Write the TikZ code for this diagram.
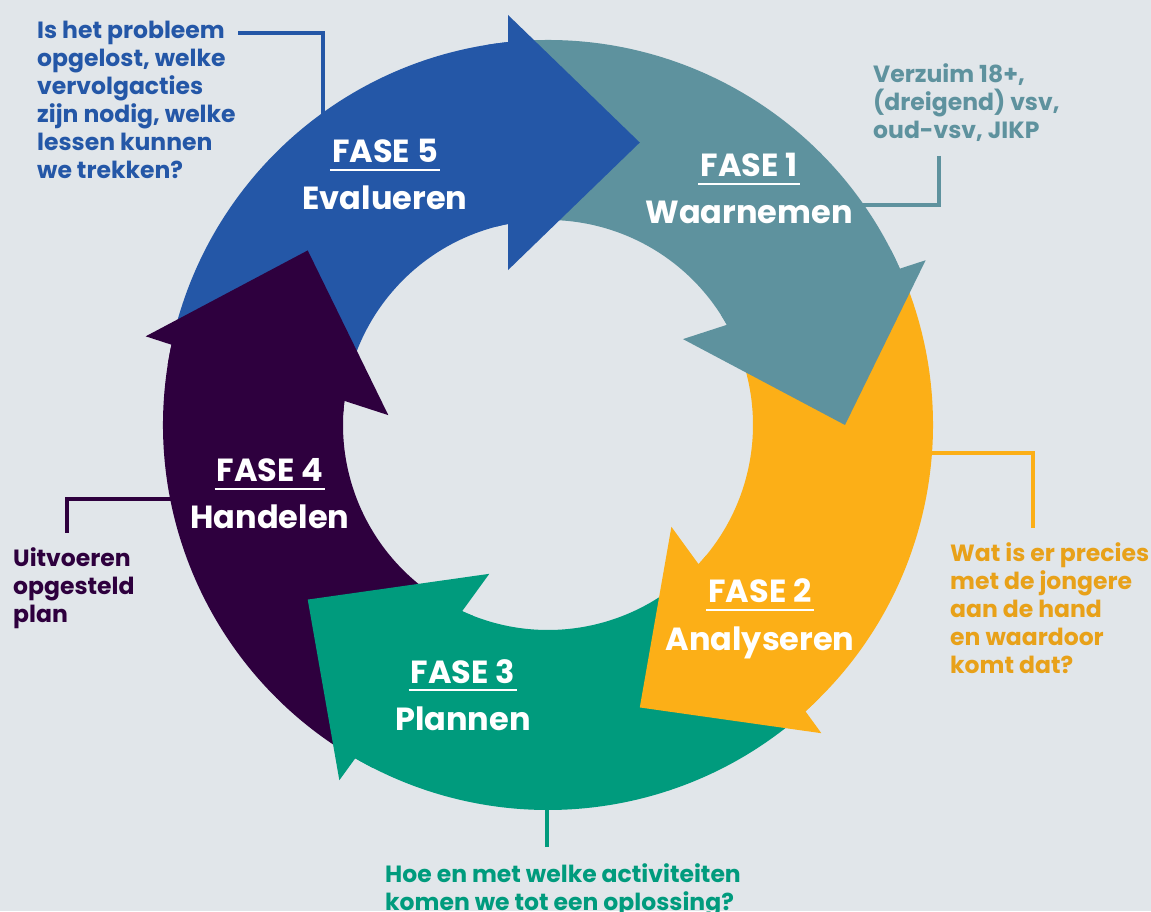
\documentclass[tikz,border=0pt]{standalone}
\usepackage{fontspec}
\setmainfont{Poppins}
\definecolor{bgGrey}{HTML}{E1E6EA}
\definecolor{faseOne}{HTML}{5E929E}
\definecolor{faseTwo}{HTML}{FCAF17}
\definecolor{faseTwoText}{HTML}{E8A119}
\definecolor{faseThree}{HTML}{009B7D}
\definecolor{faseFour}{HTML}{2E003E}
\definecolor{faseFive}{HTML}{2457A7}

\begin{document}
\begin{tikzpicture}
[x=1pt,y=1pt,
  faseTitle/.style={text=white,font=\fontsize{32}{38}\selectfont\bfseries,anchor=base,inner xsep=2pt,inner ysep=0pt},%
  faseName/.style={text=white,font=\fontsize{32}{38}\selectfont\bfseries,anchor=base,inner sep=0pt},%
  faseLine/.style={white,line width=2pt},%
  noteText/.style={font=\fontsize{23.5}{28}\selectfont\bfseries,align=left,anchor=base west,inner sep=0pt},%
  noteLine/.style={line width=4.5pt}]
%% background
\fill[bgGrey] (0,0) rectangle (1151,911);
\useasboundingbox (0,0) rectangle (1151,911);
%% notes (placed by the baseline of their last line)
\node[noteText,text=faseFive] (q5) at (37,732) {Is het probleem\\opgelost, welke\\vervolgacties\\zijn nodig, welke\\lessen kunnen\\we trekken?};
\node[noteText,text=faseOne] (q1) at (873,772) {Verzuim 18+,\\(dreigend) vsv,\\oud-vsv, JIKP};
\node[noteText,text=faseTwoText] (q2) at (950,237) {Wat is er precies\\met de jongere\\aan de hand\\en waardoor\\komt dat?};
\node[noteText,text=faseFour] (q4) at (13,288) {Uitvoeren\\opgesteld\\plan};
\node[noteText,text=faseThree] (q3) at (385,1) {Hoe en met welke activiteiten\\komen we tot een oplossing?};
%% leader lines
\coordinate (k5) at (238,878); \coordinate (r5) at (323,790);
\coordinate (k1) at (939,755); \coordinate (r1) at (858,706);
\coordinate (k2) at (1033,383); \coordinate (r2) at (925,458);
\coordinate (k4) at (67,378); \coordinate (r4) at (178,412);
\coordinate (k3) at (547,64); \coordinate (r3) at (547,112);
\draw[noteLine,faseFive] (k5) -| (r5);
\draw[noteLine,faseOne] (k1) |- (r1);
\draw[noteLine,faseTwo] (k2) |- (r2);
\draw[noteLine,faseFour] (k4) |- (r4);
\draw[noteLine,faseThree] (k3) -- (r3);
%% ring of arrows
\begin{scope}[shift={(548,486)}]
\foreach \t/\col in {0/faseOne, -72/faseTwo, -144/faseThree, 144/faseFour, 72/faseFive} {
  \fill[\col] ({\t+96}:385) arc[start angle=\t+96, end angle=\t+24, radius=385]
    -- ({\t+29.25}:205) arc[start angle=\t+29.25, end angle=\t+101.25, radius=205] -- cycle;
}
%% heads, with a strip of their own body so no seam shows
\foreach \t/\col in {0/faseOne, -72/faseTwo, -144/faseThree, 144/faseFour, 72/faseFive} {
  \fill[\col] (\t:297) -- ({\t+32.47}:160) -- ({\t+23.57}:412) -- cycle
    ({\t+27}:385) arc[start angle=\t+27, end angle=\t+21, radius=385]
    -- ({\t+26.5}:205) arc[start angle=\t+26.5, end angle=\t+32.5, radius=205] -- cycle;
}
\end{scope}
%% phase labels
\foreach \n/\x/\y/\name in {1/749/734/Waarnemen, 2/760/308/Analyseren, 3/463/228/Plannen, 4/270/429/Handelen, 5/385/748/Evalueren} {
  \node[faseTitle] (f\n) at (\x,\y) {FASE \n};
  \node[faseName] (n\n) at ([yshift=-47pt]f\n.base) {\name};
  \draw[faseLine] ([yshift=-7pt]f\n.base west) -- ([yshift=-7pt]f\n.base east);
}
\end{tikzpicture}
\end{document}
